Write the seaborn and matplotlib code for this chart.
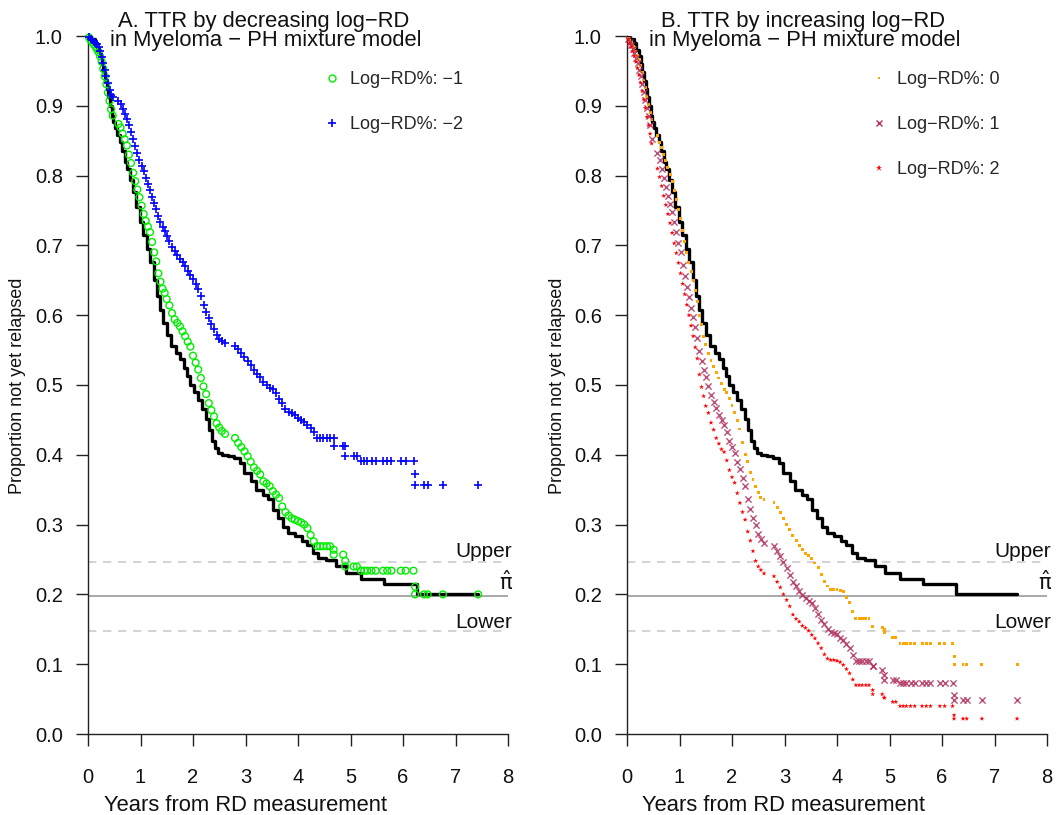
import numpy as np
import pandas as pd
import matplotlib
matplotlib.use("Agg")
import matplotlib.pyplot as plt
from matplotlib.lines import Line2D
import seaborn as sns

# Kaplan-Meier estimate of time to relapse (years, proportion not yet relapsed)
km_time = [0.00, 0.05, 0.13, 0.18, 0.23, 0.26, 0.29, 0.33, 0.36, 0.39, 0.42, 0.45, 0.48,
           0.52, 0.56, 0.61, 0.65, 0.70, 0.74, 0.80, 0.86, 0.92, 0.99, 1.05, 1.12, 1.18,
           1.25, 1.31, 1.37, 1.43, 1.50, 1.59, 1.67, 1.75, 1.82, 1.88, 1.95, 2.02, 2.10,
           2.17, 2.24, 2.30, 2.36, 2.42, 2.48, 2.55, 2.66, 2.79, 2.89, 2.98, 3.10, 3.20,
           3.33, 3.42, 3.52, 3.62, 3.71, 3.81, 3.94, 4.07, 4.17, 4.28, 4.38, 4.54, 4.72,
           4.92, 5.20, 5.63, 6.27, 7.43]
km_surv = [1.000, 0.995, 0.990, 0.980, 0.972, 0.960, 0.948, 0.935, 0.924, 0.912, 0.900,
           0.886, 0.877, 0.868, 0.858, 0.848, 0.835, 0.820, 0.809, 0.793, 0.776, 0.755,
           0.733, 0.715, 0.695, 0.676, 0.650, 0.627, 0.607, 0.589, 0.572, 0.556, 0.546,
           0.537, 0.525, 0.513, 0.500, 0.490, 0.479, 0.466, 0.451, 0.436, 0.420, 0.410,
           0.403, 0.400, 0.398, 0.396, 0.388, 0.374, 0.362, 0.350, 0.343, 0.336, 0.321,
           0.309, 0.297, 0.288, 0.283, 0.276, 0.271, 0.259, 0.252, 0.250, 0.240, 0.231,
           0.222, 0.215, 0.200, 0.200]

# Cure fraction estimate and its interval
pi_hat = 0.197
pi_upper = 0.246
pi_lower = 0.147

# Event times at which the mixture-model predictions are evaluated
pred_time = [0.02, 0.05, 0.08, 0.11, 0.14, 0.17, 0.20, 0.23, 0.26, 0.29, 0.32, 0.35, 0.38,
             0.41, 0.44, 0.47,
             0.58, 0.62, 0.66, 0.70, 0.74, 0.78, 0.82, 0.86, 0.90, 0.94, 0.98, 1.02, 1.06,
             1.10, 1.14, 1.18, 1.22, 1.26, 1.30, 1.34, 1.38, 1.42, 1.46, 1.50, 1.55, 1.60,
             1.65, 1.70, 1.75, 1.80, 1.85, 1.90, 1.95, 2.00, 2.05, 2.10, 2.15, 2.20, 2.25,
             2.30, 2.35, 2.40, 2.45, 2.50, 2.55, 2.61,
             2.80, 2.86, 2.92, 2.98, 3.04, 3.10, 3.16, 3.22, 3.28, 3.34, 3.40, 3.46, 3.52,
             3.58, 3.64, 3.70, 3.76, 3.82, 3.88, 3.94, 4.00, 4.06, 4.12, 4.18, 4.24, 4.30,
             4.36, 4.42, 4.48, 4.55, 4.61, 4.68, 4.68, 4.86, 4.90, 4.90, 5.06, 5.12, 5.20,
             5.26, 5.32, 5.40, 5.48, 5.62, 5.70, 5.78, 5.96, 6.05, 6.20, 6.23, 6.23, 6.40,
             6.47, 6.76, 7.43]

# Predicted proportion not yet relapsed, by log-RD% level
surv_m1 = [0.998, 0.994, 0.991, 0.988, 0.985, 0.981, 0.977, 0.971, 0.963, 0.953, 0.942,
           0.931, 0.919, 0.907, 0.895, 0.886,
           0.874, 0.869, 0.860, 0.852, 0.843, 0.830, 0.818, 0.804, 0.792, 0.780, 0.769,
           0.757, 0.745, 0.735, 0.727, 0.719, 0.705, 0.690, 0.677, 0.660, 0.648, 0.638,
           0.632, 0.623, 0.614, 0.603, 0.594, 0.589, 0.584, 0.577, 0.570, 0.562, 0.555,
           0.542, 0.532, 0.522, 0.510, 0.498, 0.487, 0.474, 0.464, 0.455, 0.445, 0.439,
           0.434, 0.430,
           0.424, 0.417, 0.411, 0.405, 0.398, 0.390, 0.382, 0.377, 0.372, 0.362, 0.359,
           0.355, 0.348, 0.343, 0.338, 0.326, 0.318, 0.313, 0.309, 0.307, 0.305, 0.303,
           0.300, 0.295, 0.285, 0.276, 0.269, 0.269, 0.269, 0.269, 0.269, 0.264, 0.257,
           0.257, 0.248, 0.240, 0.240, 0.240, 0.234, 0.234, 0.234, 0.234, 0.234, 0.234,
           0.234, 0.234, 0.234, 0.234, 0.234, 0.211, 0.200, 0.200, 0.200, 0.200, 0.200]
surv_m2 = [0.999, 0.996, 0.994, 0.992, 0.990, 0.988, 0.984, 0.978, 0.970, 0.961, 0.951,
           0.942, 0.932, 0.923, 0.916, 0.912,
           0.907, 0.903, 0.895, 0.888, 0.881, 0.872, 0.862, 0.852, 0.842, 0.832, 0.822,
           0.814, 0.806, 0.797, 0.788, 0.779, 0.770, 0.761, 0.752, 0.742, 0.734, 0.727,
           0.720, 0.714, 0.706, 0.698, 0.692, 0.686, 0.680, 0.676, 0.671, 0.664, 0.658,
           0.652, 0.644, 0.637, 0.627, 0.615, 0.605, 0.596, 0.588, 0.580, 0.572, 0.566,
           0.563, 0.560,
           0.556, 0.551, 0.546, 0.540, 0.535, 0.528, 0.521, 0.516, 0.511, 0.504, 0.500,
           0.496, 0.494, 0.488, 0.480, 0.474, 0.466, 0.462, 0.460, 0.457, 0.453, 0.450,
           0.447, 0.443, 0.438, 0.432, 0.424, 0.424, 0.424, 0.424, 0.424, 0.424, 0.412,
           0.412, 0.412, 0.398, 0.398, 0.398, 0.391, 0.391, 0.391, 0.391, 0.391, 0.391,
           0.391, 0.391, 0.391, 0.391, 0.391, 0.372, 0.357, 0.357, 0.357, 0.357, 0.357]
surv_0 = [0.997, 0.994, 0.990, 0.987, 0.983, 0.978, 0.972, 0.966, 0.958, 0.948, 0.937,
          0.926, 0.914, 0.902, 0.890, 0.880,
          0.858, 0.848, 0.840, 0.830, 0.821, 0.812, 0.802, 0.791, 0.779, 0.766, 0.752,
          0.738, 0.722, 0.705, 0.690, 0.676, 0.662, 0.650, 0.636, 0.620, 0.600, 0.586,
          0.570, 0.558, 0.545, 0.535, 0.527, 0.518, 0.510, 0.502, 0.494, 0.489, 0.480,
          0.470, 0.460, 0.449, 0.437, 0.417, 0.400, 0.390, 0.375, 0.364, 0.355, 0.346,
          0.339, 0.336,
          0.331, 0.324, 0.317, 0.309, 0.300, 0.293, 0.284, 0.277, 0.270, 0.264, 0.259,
          0.256, 0.252, 0.245, 0.238, 0.229, 0.218, 0.212, 0.207, 0.207, 0.207, 0.206,
          0.204, 0.195, 0.188, 0.175, 0.165, 0.165, 0.165, 0.165, 0.165, 0.154, 0.154,
          0.152, 0.150, 0.145, 0.138, 0.138, 0.130, 0.130, 0.130, 0.130, 0.130, 0.130,
          0.130, 0.130, 0.130, 0.130, 0.130, 0.111, 0.099, 0.099, 0.099, 0.099, 0.099]
surv_p1 = [0.996, 0.991, 0.987, 0.982, 0.976, 0.969, 0.961, 0.952, 0.942, 0.931, 0.920,
           0.909, 0.897, 0.886, 0.872, 0.852,
           0.832, 0.822, 0.810, 0.796, 0.784, 0.771, 0.760, 0.748, 0.733, 0.719, 0.704,
           0.690, 0.672, 0.656, 0.641, 0.626, 0.611, 0.597, 0.583, 0.568, 0.549, 0.535,
           0.522, 0.512, 0.499, 0.485, 0.476, 0.467, 0.457, 0.450, 0.442, 0.432, 0.420,
           0.411, 0.402, 0.390, 0.379, 0.367, 0.355, 0.336, 0.322, 0.309, 0.299, 0.287,
           0.279, 0.273,
           0.269, 0.262, 0.255, 0.247, 0.238, 0.228, 0.218, 0.212, 0.205, 0.199, 0.195,
           0.191, 0.187, 0.181, 0.172, 0.163, 0.157, 0.151, 0.146, 0.145, 0.143, 0.138,
           0.134, 0.129, 0.123, 0.113, 0.105, 0.105, 0.105, 0.105, 0.105, 0.097, 0.097,
           0.092, 0.084, 0.077, 0.077, 0.077, 0.073, 0.073, 0.073, 0.073, 0.073, 0.073,
           0.073, 0.073, 0.073, 0.073, 0.073, 0.056, 0.049, 0.049, 0.049, 0.049, 0.049]
surv_p2 = [0.995, 0.989, 0.984, 0.978, 0.971, 0.963, 0.954, 0.944, 0.933, 0.921, 0.909,
           0.897, 0.884, 0.872, 0.860, 0.846,
           0.810, 0.798, 0.785, 0.771, 0.758, 0.745, 0.732, 0.718, 0.703, 0.689, 0.675,
           0.660, 0.645, 0.630, 0.615, 0.600, 0.585, 0.570, 0.554, 0.538, 0.515, 0.497,
           0.484, 0.470, 0.460, 0.446, 0.436, 0.424, 0.416, 0.408, 0.404, 0.392, 0.378,
           0.368, 0.360, 0.345, 0.331, 0.318, 0.307, 0.290, 0.277, 0.262, 0.248, 0.240,
           0.235, 0.230,
           0.226, 0.218, 0.210, 0.200, 0.192, 0.183, 0.171, 0.165, 0.161, 0.155, 0.152,
           0.148, 0.142, 0.137, 0.130, 0.123, 0.114, 0.108, 0.106, 0.106, 0.105, 0.103,
           0.099, 0.093, 0.087, 0.078, 0.070, 0.070, 0.070, 0.070, 0.070, 0.063, 0.057,
           0.057, 0.052, 0.052, 0.046, 0.046, 0.040, 0.040, 0.040, 0.040, 0.040, 0.040,
           0.040, 0.040, 0.040, 0.040, 0.040, 0.027, 0.022, 0.022, 0.022, 0.022, 0.022]

x_ticks = [0, 1, 2, 3, 4, 5, 6, 7, 8]
y_ticks = [0.0, 0.1, 0.2, 0.3, 0.4, 0.5, 0.6, 0.7, 0.8, 0.9, 1.0]

titles = [("A. TTR by decreasing log\u2212RD", "in Myeloma \u2212 PH mixture model"),
          ("B. TTR by increasing log\u2212RD", "in Myeloma \u2212 PH mixture model")]

# marker styles per log-RD% level
styles = {
    "Log\u2212RD%: \u22121": dict(values=surv_m1, marker="o", color="#00EE00", s=24, lw=1.0, open=True, ms=5.0),
    "Log\u2212RD%: \u22122": dict(values=surv_m2, marker="+", color="#0000FF", s=36, lw=1.2, open=False, ms=6.0),
    "Log\u2212RD%: 0": dict(values=surv_0, marker="s", color="#FFA500", s=4.5, lw=0, open=False, ms=2.0),
    "Log\u2212RD%: 1": dict(values=surv_p1, marker="x", color="#B03060", s=20, lw=1.0, open=False, ms=5.0),
    "Log\u2212RD%: 2": dict(values=surv_p2, marker="*", color="#FF0000", s=14, lw=0, open=False, ms=4.5),
}
panel_series = [["Log\u2212RD%: \u22121", "Log\u2212RD%: \u22122"],
                ["Log\u2212RD%: 0", "Log\u2212RD%: 1", "Log\u2212RD%: 2"]]

sns.set_theme(style="ticks")
plt.rcParams["font.family"] = ["Liberation Sans", "DejaVu Sans"]
plt.rcParams["axes.unicode_minus"] = True

W, H = 1060, 815
fig = plt.figure(figsize=(W / 100, H / 100), dpi=100)
fig.patch.set_facecolor("white")

ax_left_px = [88, 627]
legend_left_px = [325, 872]
text_shift = [0, 539]
for k in range(2):
    x0 = ax_left_px[k]
    ax = fig.add_axes([x0 / W, 81 / H, 420 / W, 698 / H])
    ax.set_facecolor("white")

    ax.axhline(pi_upper, color="#CCCCCC", lw=1.2, ls=(0, (5, 4)), zorder=1)
    ax.axhline(pi_hat, color="#999999", lw=1.2, zorder=1)
    ax.axhline(pi_lower, color="#CCCCCC", lw=1.2, ls=(0, (5, 4)), zorder=1)

    sns.lineplot(x=km_time, y=km_surv, drawstyle="steps-post", color="black",
                 lw=2.4, estimator=None, sort=False, ax=ax, zorder=3)

    handles = []
    for name in panel_series[k]:
        st = styles[name]
        df = pd.DataFrame({"time": pred_time, "surv": st["values"]})
        n_before = len(ax.collections)
        sns.scatterplot(data=df, x="time", y="surv", marker=st["marker"],
                        color=st["color"], s=st["s"], linewidth=st["lw"],
                        ax=ax, zorder=4, clip_on=False, legend=False)
        coll = ax.collections[n_before]
        if st["open"]:
            coll.set_facecolor("none")
            coll.set_edgecolor(st["color"])
        elif st["marker"] in ("+", "x"):
            coll.set_edgecolor(st["color"])
        else:
            coll.set_edgecolor("none")
        if st["marker"] == "x":
            coll.set_alpha(0.85)
        handles.append(Line2D([], [], ls="none", marker=st["marker"], markersize=st["ms"],
                              markerfacecolor="none" if st["open"] else st["color"],
                              markeredgecolor=st["color"],
                              markeredgewidth=st["lw"] if st["lw"] else 0.0))

    leg_x = (legend_left_px[k] - x0) / 420
    ax.legend(handles, panel_series[k], loc="upper left", bbox_to_anchor=(leg_x, 0.950),
              frameon=False, fontsize=13, handlelength=0.8, handletextpad=0.6,
              labelspacing=1.55, borderpad=0, borderaxespad=0)

    ax.set_xlim(0, 8)
    ax.set_ylim(0, 1)
    ax.set_xticks(x_ticks)
    ax.set_xticklabels([str(v) for v in x_ticks])
    ax.set_yticks(y_ticks)
    ax.set_yticklabels([f"{v:.1f}" for v in y_ticks])
    ax.tick_params(axis="both", direction="out", length=8.6, width=1.0,
                   color="#222222", labelsize=14.5, labelcolor="#111111")
    ax.tick_params(axis="x", pad=16)
    ax.tick_params(axis="y", pad=9.5)
    for side in ("top", "right"):
        ax.spines[side].set_visible(False)
    for side in ("left", "bottom"):
        ax.spines[side].set_color("#222222")
        ax.spines[side].set_linewidth(1.0)
    ax.set_xlabel("")
    ax.set_ylabel("")

    # reference labels for the cure fraction and its bounds
    tr = ax.get_yaxis_transform()
    ax.text(1.0095, 0.262, "Upper", transform=tr, ha="right", va="center",
            fontsize=15, color="#111111", clip_on=False)
    ax.text(0.995, 0.218, r"$\hat{\mathrm{\pi}}$", transform=tr, ha="center", va="center",
            fontsize=15, color="#111111", clip_on=False)
    ax.text(1.0095, 0.160, "Lower", transform=tr, ha="right", va="center",
            fontsize=15, color="#111111", clip_on=False)

    # titles and axis labels
    dx = text_shift[k]
    fig.text((264 + dx) / W, 1 - 26.5 / H, titles[k][0], ha="center", va="baseline",
             fontsize=15.8, color="#111111")
    fig.text((266 + dx) / W, 1 - 46 / H, titles[k][1], ha="center", va="baseline",
             fontsize=15.8, color="#111111")
    fig.text((245 + dx) / W, 1 - 811 / H, "Years from RD measurement",
             ha="center", va="baseline", fontsize=15.8, color="#111111")
    fig.text((18 + dx) / W, 1 - 386 / H, "Proportion not yet relapsed",
             ha="center", va="center", rotation=90, fontsize=13, color="#111111")

fig.savefig("out.png", dpi=100, facecolor="white")
